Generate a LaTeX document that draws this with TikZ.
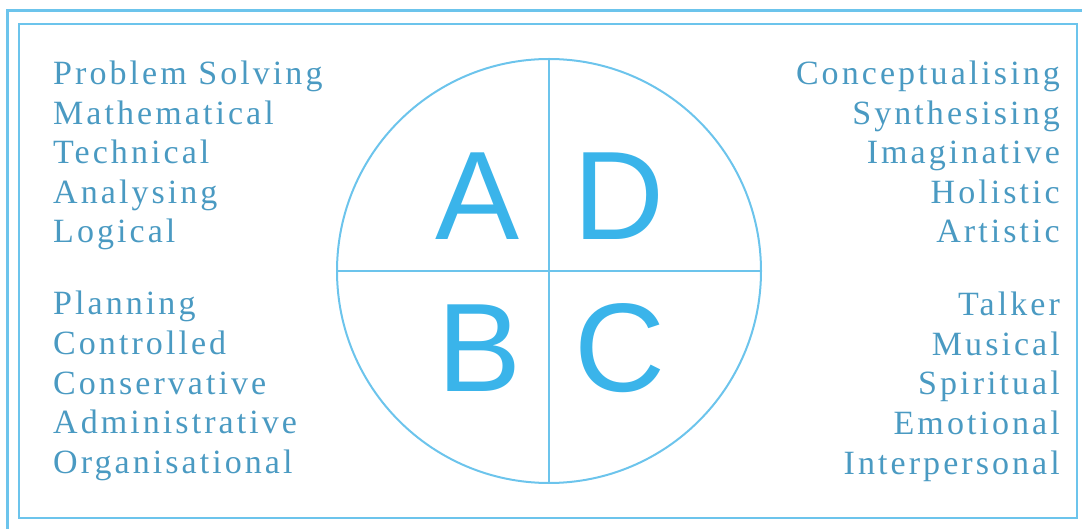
\documentclass[tikz,border=0pt]{standalone}
\usepackage{fontspec}
\setmainfont{Liberation Serif}[LetterSpace=9]
\newfontfamily\quadfont{Liberation Sans}
\usepackage{tikz}
\usetikzlibrary{positioning, calc}
\definecolor{framec}{HTML}{6CC4EC}
\definecolor{quadc}{HTML}{3AB4EA}
\definecolor{wordc}{HTML}{4A9AC2}
% one column of words, one node per line
\newcommand{\wordcol}[5]{%
  \foreach \w [count=\k] in {#5}
    \node[word, anchor=base #4] (#1\k) at (#2, #3+39.5-39.5*\k) {\w};
}
\newcommand{\quadletter}[3]{%
  \node[quad] (#1) at #2 {#3};
}

\begin{document}
\begin{tikzpicture}[x=1pt, y=1pt,
      word/.style={inner sep=0pt, text=wordc,
        font=\fontsize{34}{39.5}\selectfont},
      quad/.style={inner sep=0pt, anchor=base, text=quadc,
        font=\quadfont\fontsize{126}{126}\selectfont},
      rim/.style={draw=framec, line width=2pt}]
    \useasboundingbox (0,0) rectangle (1082,528);
    % frames
    \draw[rim, line width=3pt] (7,-6) rectangle (1090,517);
    \draw[rim, line width=2.4pt] (19,10) rectangle (1077,504);
    % the circle and its quarters
    \node[circle, rim, minimum size=424pt, inner sep=0pt] (disc) at (549,257) {};
    \draw[rim] (disc.west) -- (disc.east);
    \draw[rim] (disc.north) -- (disc.south);
    \quadletter{qa}{(478,288)}{A}
    \quadletter{qd}{(619,288)}{D}
    \quadletter{qb}{(480,136)}{B}
    \quadletter{qc}{(620,136)}{C}
    % the four word lists
    \wordcol{la}{53}{443}{west}{Problem Solving, Mathematical,
      Technical, Analysing, Logical}
    \wordcol{lb}{53}{213}{west}{Planning, Controlled, Conservative,
      Administrative, Organisational}
    \wordcol{rd}{1060}{443}{east}{Conceptualising, Synthesising,
      Imaginative, Holistic, Artistic}
    \wordcol{rc}{1060}{212}{east}{Talker, Musical, Spiritual,
      Emotional, Interpersonal}
\end{tikzpicture}
\end{document}
